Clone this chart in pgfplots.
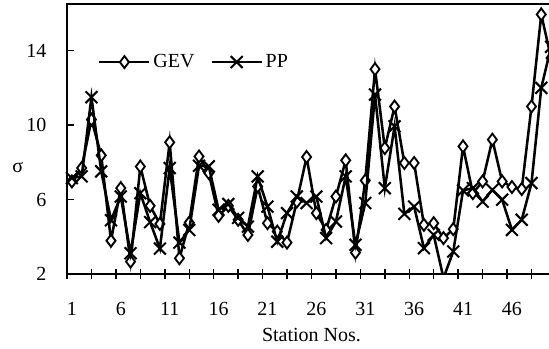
\documentclass[border=0pt]{standalone}
\usepackage{fontspec}
\setmainfont{Liberation Serif}
\usepackage{pgfplots}
\pgfplotsset{compat=1.18}
\pgfplotstableread{
c gev pp
1 6.98 7.16
2 7.70 7.25
3 10.3 11.5
4 8.38 7.52
5 3.80 4.90
6 6.62 6.17
7 2.68 3.13
8 7.78 6.35
9 5.67 4.80
10 4.70 3.38
11 9.08 7.70
12 2.86 3.70
13 4.77 4.38
14 8.32 7.82
15 7.43 7.79
16 5.13 5.46
17 5.67 5.77
18 4.92 5.03
19 4.11 4.56
20 6.71 7.25
21 4.74 5.63
22 4.29 3.75
23 3.70 5.28
24 5.90 6.17
25 8.29 5.82
26 5.28 6.17
27 4.38 3.94
28 6.17 4.83
29 8.11 7.25
30 3.16 3.58
31 7.03 5.82
32 13.0 11.64
33 8.77 6.62
34 11.0 9.94
35 7.97 5.24
36 7.97 5.63
37 4.65 3.40
38 4.74 4.11
39 3.94 1.80
40 4.42 3.22
41 8.86 6.50
42 6.35 6.62
43 6.98 5.90
44 9.22 6.53
45 6.98 6.00
46 6.68 4.38
47 6.57 4.92
48 11.0 6.89
49 15.94 12.0
50 13.6 14.2
}\datatable
\begin{document}
\begin{tikzpicture}[font=\fontsize{15pt}{18pt}\selectfont]
\begin{axis}[
  scale only axis,
  width=366.7pt, height=202.7pt,
  xmin=0.5, xmax=50.5,
  ymin=2, ymax=16.5,
  clip mode=individual,
  axis line style={line width=1.6pt},
  tick pos=left,
  tick align=inside,
  major tick length=0pt,
  xtick={0.5,3,...,50.5},
  xticklabels={1,,6,,11,,16,,21,,26,,31,,36,,41,,46,,},
  ytick={2,6,10,14},
  xticklabel style={xshift=3.67pt, yshift=-17.5pt},
  yticklabel style={xshift=-12pt},
  /pgf/number format/assume math mode=true,
  tick label style={font=\fontsize{15pt}{18pt}\selectfont},
  xlabel={Station Nos.},
  xlabel style={at={(axis description cs:0.5,0)}, anchor=north, yshift=-37pt, font=\fontsize{15pt}{18pt}\selectfont},
  ylabel={σ},
  ylabel style={rotate=-90, at={(axis description cs:0,0.375)}, anchor=base, xshift=-37pt, font=\fontsize{15pt}{18pt}\selectfont},
  legend style={draw=none, fill=none, at={(0.055,0.785)}, anchor=west, legend columns=2,
    font=\fontsize{15pt}{18pt}\selectfont,
    /tikz/every even column/.append style={column sep=10pt}},
  legend image code/.code={\draw[mark repeat=2,mark phase=2,#1] plot coordinates {(0pt,0pt) (18.75pt,0pt) (37.5pt,0pt)};},
]
\addplot[black, line width=1.9pt, mark=diamond*, mark size=4.5pt, mark options={fill=white, line width=1.4pt, solid}] table[x=c, y=gev] {\datatable};
\addlegendentry{GEV}
\addplot[black, line width=1.9pt, mark=x, mark size=6.3pt, mark options={line width=1.5pt, solid}] table[x=c, y=pp] {\datatable};
\addlegendentry{PP}
\pgfplotsinvokeforeach{0.5,3,5.5,8,10.5,13,15.5,18,20.5,23,25.5,28,30.5,33,35.5,38,40.5,43,45.5,48,50.5}{
  \draw[line width=1.1pt] (axis cs:#1,2) ++(0pt,-3.75pt) -- ++(0pt,7.5pt);
}
\pgfplotsinvokeforeach{6,10,14}{
  \draw[line width=1.1pt] (axis cs:0.5,#1) -- ++(5pt,0pt);
}
\coordinate (sw) at (rel axis cs:0,0);
\coordinate (ne) at (rel axis cs:1,1);
\end{axis}
\pgfresetboundingbox
\useasboundingbox ([xshift=-50.25pt,yshift=-56pt]sw) rectangle ([xshift=-5.2pt,yshift=3pt]ne);
\end{tikzpicture}
\end{document}
